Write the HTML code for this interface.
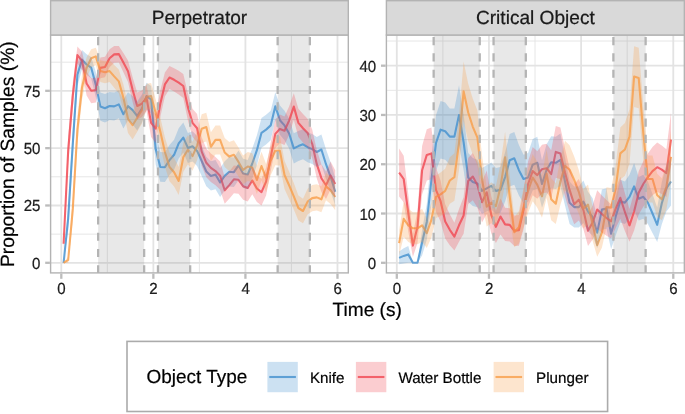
<!DOCTYPE html>
<html lang="en"><head><meta charset="utf-8"><title>Proportion of Samples by Object Type</title>
<style>html,body{margin:0;padding:0;background:#fff}svg{display:block;will-change:transform}text{stroke:#111;stroke-width:.22px}</style></head>
<body>
<svg width="685" height="414" viewBox="0 0 685 414" font-family="Liberation Sans, sans-serif" text-rendering="geometricPrecision">
<rect width="685" height="414" fill="#fff"/>
<clipPath id="c0"><rect x="50.6" y="35.0" width="297.70" height="237.90"/></clipPath>
<g clip-path="url(#c0)">
<line x1="50.6" x2="348.3" y1="234.14" y2="234.14" stroke="#e3e3e3" stroke-width="0.9"/>
<line x1="50.6" x2="348.3" y1="176.81" y2="176.81" stroke="#e3e3e3" stroke-width="0.9"/>
<line x1="50.6" x2="348.3" y1="119.49" y2="119.49" stroke="#e3e3e3" stroke-width="0.9"/>
<line x1="50.6" x2="348.3" y1="62.16" y2="62.16" stroke="#e3e3e3" stroke-width="0.9"/>
<line y1="35.0" y2="272.9" x1="107.33" x2="107.33" stroke="#e3e3e3" stroke-width="0.9"/>
<line y1="35.0" y2="272.9" x1="199.39" x2="199.39" stroke="#e3e3e3" stroke-width="0.9"/>
<line y1="35.0" y2="272.9" x1="291.45" x2="291.45" stroke="#e3e3e3" stroke-width="0.9"/>
<line x1="50.6" x2="348.3" y1="262.80" y2="262.80" stroke="#e3e3e3" stroke-width="1.8"/>
<line x1="50.6" x2="348.3" y1="205.48" y2="205.48" stroke="#e3e3e3" stroke-width="1.8"/>
<line x1="50.6" x2="348.3" y1="148.15" y2="148.15" stroke="#e3e3e3" stroke-width="1.8"/>
<line x1="50.6" x2="348.3" y1="90.82" y2="90.82" stroke="#e3e3e3" stroke-width="1.8"/>
<line y1="35.0" y2="272.9" x1="61.30" x2="61.30" stroke="#e3e3e3" stroke-width="1.8"/>
<line y1="35.0" y2="272.9" x1="153.36" x2="153.36" stroke="#e3e3e3" stroke-width="1.8"/>
<line y1="35.0" y2="272.9" x1="245.42" x2="245.42" stroke="#e3e3e3" stroke-width="1.8"/>
<line y1="35.0" y2="272.9" x1="337.48" x2="337.48" stroke="#e3e3e3" stroke-width="1.8"/>
<rect x="98.12" y="35.0" width="46.03" height="237.90" fill="#808080" fill-opacity="0.18"/>
<rect x="157.96" y="35.0" width="32.22" height="237.90" fill="#808080" fill-opacity="0.18"/>
<rect x="277.64" y="35.0" width="32.22" height="237.90" fill="#808080" fill-opacity="0.18"/>
<polyline fill="none" stroke="#4490CE" stroke-opacity="0.8" stroke-width="2.1" stroke-linejoin="round" stroke-linecap="butt" points="63.6,262.8 68.2,218.1 72.8,143.6 77.4,74.8 82.0,59.6 86.6,64.5 91.2,67.7 95.8,84.6 100.4,106.6 105.0,108.3 109.6,106.0 114.2,106.4 118.8,104.4 123.4,114.2 128.0,106.2 132.6,110.1 137.2,116.0 141.9,108.5 146.5,96.1 151.1,99.5 155.7,149.3 160.3,167.0 164.9,167.2 169.5,160.1 174.1,154.8 178.7,143.3 183.3,137.6 187.9,147.9 192.5,146.3 197.1,150.9 201.7,161.0 206.3,171.5 210.9,175.9 215.5,174.5 220.1,182.5 224.7,175.9 229.3,171.8 233.9,172.2 238.5,165.3 243.1,173.4 247.7,174.5 252.3,163.5 256.9,150.2 261.5,132.8 266.1,129.6 270.7,125.4 275.3,106.2 279.9,120.2 284.5,125.4 289.1,133.5 293.8,148.4 298.4,146.1 303.0,144.3 307.6,147.2 312.2,149.1 316.8,152.0 321.4,149.5 326.0,164.2 330.6,176.8 335.2,191.7"/>
<polyline fill="none" stroke="#F14650" stroke-opacity="0.8" stroke-width="2.1" stroke-linejoin="round" stroke-linecap="butt" points="63.6,243.8 68.2,150.4 72.8,95.4 77.4,55.1 82.0,60.8 86.6,83.5 91.2,90.8 95.8,90.1 100.4,67.9 105.0,67.0 109.6,58.3 114.2,54.4 118.8,54.1 123.4,62.6 128.0,71.3 132.6,89.7 137.2,106.0 141.9,103.7 146.5,97.9 151.1,122.9 155.7,128.7 160.3,103.7 164.9,84.4 169.5,77.5 174.1,79.8 178.7,82.6 183.3,86.0 187.9,107.1 192.5,122.9 197.1,128.2 201.7,151.6 206.3,162.8 210.9,167.9 215.5,171.1 220.1,175.7 224.7,190.3 229.3,185.1 233.9,179.3 238.5,179.8 243.1,186.2 247.7,188.0 252.3,180.5 256.9,188.5 261.5,192.2 266.1,181.6 270.7,157.1 275.3,133.9 279.9,128.9 284.5,130.7 289.1,120.6 293.8,106.6 298.4,122.9 303.0,128.2 307.6,133.0 312.2,143.8 316.8,164.2 321.4,178.2 326.0,185.3 330.6,175.4 335.2,183.9"/>
<polyline fill="none" stroke="#F99E49" stroke-opacity="0.8" stroke-width="2.1" stroke-linejoin="round" stroke-linecap="butt" points="63.6,262.8 68.2,259.8 72.8,208.9 77.4,129.8 82.0,87.4 86.6,67.9 91.2,58.3 95.8,56.4 100.4,71.1 105.0,72.3 109.6,71.1 114.2,76.4 118.8,81.4 123.4,97.7 128.0,118.8 132.6,125.2 137.2,117.7 141.9,110.1 146.5,96.8 151.1,96.1 155.7,113.1 160.3,131.6 164.9,152.0 169.5,167.0 174.1,172.2 178.7,180.9 183.3,157.3 187.9,149.8 192.5,156.2 197.1,145.6 201.7,128.7 206.3,127.1 210.9,146.8 215.5,139.9 220.1,139.9 224.7,152.5 229.3,156.6 233.9,154.8 238.5,161.9 243.1,169.9 247.7,166.5 252.3,167.6 256.9,180.0 261.5,166.0 266.1,178.2 270.7,160.8 275.3,150.7 279.9,150.9 284.5,175.0 289.1,185.3 293.8,196.3 298.4,208.0 303.0,211.0 307.6,201.6 312.2,198.1 316.8,197.4 321.4,199.3 326.0,186.4 330.6,190.3 335.2,197.0"/>
<polygon fill="#4490CE" fill-opacity="0.27" points="63.6,262.8 68.2,206.2 72.8,128.5 77.4,63.2 82.0,50.1 86.6,54.2 91.2,56.9 95.8,72.1 100.4,92.6 105.0,94.1 109.6,92.0 114.2,92.4 118.8,90.4 123.4,99.8 128.0,92.2 132.6,95.9 137.2,101.6 141.9,94.4 146.5,82.7 151.1,85.9 155.7,134.2 160.3,152.1 164.9,152.3 169.5,145.1 174.1,139.8 178.7,128.3 183.3,122.6 187.9,132.9 192.5,131.3 197.1,135.9 201.7,146.0 206.3,156.8 210.9,161.3 215.5,159.9 220.1,168.2 224.7,161.3 229.3,157.0 233.9,157.5 238.5,150.5 243.1,158.7 247.7,159.9 252.3,148.6 256.9,135.2 261.5,117.9 266.1,114.7 270.7,110.7 275.3,92.2 279.9,105.6 284.5,110.7 289.1,118.5 293.8,133.3 298.4,131.0 303.0,129.2 307.6,132.2 312.2,134.0 316.8,137.0 321.4,134.5 326.0,149.3 330.6,162.2 335.2,177.8 335.2,205.6 330.6,191.4 326.0,179.1 321.4,164.6 316.8,167.1 312.2,164.1 307.6,162.3 303.0,159.3 298.4,161.1 293.8,163.4 289.1,148.4 284.5,140.2 279.9,134.8 275.3,120.2 270.7,140.2 266.1,144.4 261.5,147.7 256.9,165.3 252.3,178.4 247.7,189.2 243.1,188.1 238.5,180.2 233.9,186.9 229.3,186.5 224.7,190.5 220.1,196.9 215.5,189.2 210.9,190.5 206.3,186.3 201.7,176.0 197.1,166.0 192.5,161.4 187.9,163.0 183.3,152.6 178.7,158.4 174.1,169.8 169.5,175.0 164.9,182.0 160.3,181.8 155.7,164.4 151.1,113.2 146.5,109.5 141.9,122.6 137.2,130.5 132.6,124.3 128.0,120.2 123.4,128.6 118.8,118.3 114.2,120.4 109.6,120.0 105.0,122.4 100.4,120.7 95.8,97.2 91.2,78.4 86.6,74.7 82.0,69.2 77.4,86.3 72.8,158.6 68.2,230.0 63.6,262.8"/>
<polygon fill="#F14650" fill-opacity="0.27" points="63.6,235.8 68.2,136.0 72.8,82.6 77.4,46.6 82.0,51.4 86.6,71.6 91.2,78.3 95.8,77.7 100.4,57.6 105.0,56.8 109.6,49.3 114.2,46.1 118.8,45.9 123.4,53.0 128.0,60.6 132.6,77.3 137.2,92.5 141.9,90.4 146.5,84.9 151.1,108.8 155.7,114.4 160.3,90.4 164.9,72.4 169.5,66.1 174.1,68.2 178.7,70.7 183.3,73.9 187.9,93.6 192.5,108.8 197.1,114.0 201.7,137.2 206.3,148.5 210.9,153.6 215.5,156.9 220.1,161.6 224.7,176.9 229.3,171.4 233.9,165.4 238.5,165.9 243.1,172.6 247.7,174.5 252.3,166.6 256.9,175.0 261.5,178.8 266.1,167.8 270.7,142.7 275.3,119.6 279.9,114.6 284.5,116.4 289.1,106.6 293.8,93.2 298.4,108.8 303.0,114.0 307.6,118.7 312.2,129.4 316.8,149.9 321.4,164.2 326.0,171.6 330.6,161.4 335.2,170.2 335.2,197.6 330.6,189.5 326.0,199.0 321.4,192.1 316.8,178.5 312.2,158.2 307.6,147.3 303.0,142.4 298.4,137.0 293.8,120.1 289.1,134.7 284.5,145.0 279.9,143.1 275.3,148.3 270.7,171.5 266.1,195.4 261.5,205.5 256.9,202.0 252.3,194.3 247.7,201.6 243.1,199.8 238.5,193.7 233.9,193.2 229.3,198.7 224.7,203.8 220.1,189.7 215.5,185.2 210.9,182.1 206.3,177.2 201.7,166.0 197.1,142.4 192.5,137.0 187.9,120.6 183.3,98.1 178.7,94.4 174.1,91.4 169.5,88.9 164.9,96.4 160.3,117.0 155.7,142.9 151.1,137.0 146.5,110.9 141.9,117.0 137.2,119.4 132.6,102.1 128.0,82.1 123.4,72.2 118.8,62.4 114.2,62.7 109.6,67.2 105.0,77.2 100.4,78.2 95.8,102.6 91.2,103.3 86.6,95.4 82.0,70.1 77.4,63.5 72.8,108.2 68.2,164.9 63.6,251.7"/>
<polygon fill="#F99E49" fill-opacity="0.27" points="63.6,262.8 68.2,256.5 72.8,196.6 77.4,115.4 82.0,75.0 86.6,57.5 91.2,49.2 95.8,47.7 100.4,60.3 105.0,61.3 109.6,60.3 114.2,65.0 118.8,69.6 123.4,84.6 128.0,104.7 132.6,111.0 137.2,103.6 141.9,96.4 146.5,83.8 151.1,83.1 155.7,99.2 160.3,117.2 164.9,137.5 169.5,152.6 174.1,158.0 178.7,167.0 183.3,142.8 187.9,135.2 192.5,141.7 197.1,131.1 201.7,114.3 206.3,112.7 210.9,132.2 215.5,125.4 220.1,125.4 224.7,138.0 229.3,142.1 233.9,140.3 238.5,147.5 243.1,155.6 247.7,152.1 252.3,153.3 256.9,166.0 261.5,151.7 266.1,164.1 270.7,146.3 275.3,136.1 279.9,136.3 284.5,160.8 289.1,171.5 293.8,183.1 298.4,195.6 303.0,198.8 307.6,188.7 312.2,185.0 316.8,184.3 321.4,186.3 326.0,172.7 330.6,176.8 335.2,183.8 335.2,210.2 330.6,203.9 326.0,200.2 321.4,212.3 316.8,210.6 312.2,211.2 307.6,214.5 303.0,223.2 298.4,220.4 293.8,209.5 289.1,199.1 284.5,189.1 279.9,165.5 275.3,165.2 270.7,175.2 266.1,192.2 261.5,180.4 256.9,194.0 252.3,182.0 247.7,180.9 243.1,184.2 238.5,176.4 233.9,169.3 229.3,171.2 224.7,167.1 220.1,154.4 215.5,154.4 210.9,161.3 206.3,141.4 201.7,143.0 197.1,160.2 192.5,170.7 187.9,164.3 183.3,171.8 178.7,194.9 174.1,186.5 169.5,181.3 164.9,166.6 160.3,146.0 155.7,126.9 151.1,109.1 146.5,109.8 141.9,123.8 137.2,131.7 132.6,139.5 128.0,132.9 123.4,110.8 118.8,93.3 114.2,87.7 109.6,81.9 105.0,83.2 100.4,81.9 95.8,65.2 91.2,67.3 86.6,78.3 82.0,99.7 77.4,144.2 72.8,221.3 68.2,263.1 63.6,262.8"/>
<line x1="98.12" x2="98.12" y1="273.40" y2="35.0" stroke="#b4b4b4" stroke-width="2.3" stroke-dasharray="8.1 8.205"/>
<line x1="144.15" x2="144.15" y1="273.40" y2="35.0" stroke="#b4b4b4" stroke-width="2.3" stroke-dasharray="8.1 8.205"/>
<line x1="157.96" x2="157.96" y1="273.40" y2="35.0" stroke="#b4b4b4" stroke-width="2.3" stroke-dasharray="8.1 8.205"/>
<line x1="190.18" x2="190.18" y1="273.40" y2="35.0" stroke="#b4b4b4" stroke-width="2.3" stroke-dasharray="8.1 8.205"/>
<line x1="277.64" x2="277.64" y1="273.40" y2="35.0" stroke="#b4b4b4" stroke-width="2.3" stroke-dasharray="8.1 8.205"/>
<line x1="309.86" x2="309.86" y1="273.40" y2="35.0" stroke="#b4b4b4" stroke-width="2.3" stroke-dasharray="8.1 8.205"/>
</g>
<rect x="50.6" y="35.0" width="297.70" height="237.90" fill="none" stroke="#b3b3b3" stroke-width="1.4"/>
<rect x="50.6" y="0.7" width="297.70" height="34.30" fill="#d9d9d9" stroke="#b3b3b3" stroke-width="1.4"/>
<text x="199.45" y="24.0" font-size="19.1" text-anchor="middle" fill="#1a1a1a">Perpetrator</text>
<line x1="45.20" x2="49.90" y1="262.80" y2="262.80" stroke="#bcbcbc" stroke-width="2.3"/>
<text transform="translate(40.40,268.80) scale(0.94,1)" font-size="16" text-anchor="end" fill="#1f1f1f">0</text>
<line x1="45.20" x2="49.90" y1="205.48" y2="205.48" stroke="#bcbcbc" stroke-width="2.3"/>
<text transform="translate(40.40,211.48) scale(0.94,1)" font-size="16" text-anchor="end" fill="#1f1f1f">25</text>
<line x1="45.20" x2="49.90" y1="148.15" y2="148.15" stroke="#bcbcbc" stroke-width="2.3"/>
<text transform="translate(40.40,154.15) scale(0.94,1)" font-size="16" text-anchor="end" fill="#1f1f1f">50</text>
<line x1="45.20" x2="49.90" y1="90.82" y2="90.82" stroke="#bcbcbc" stroke-width="2.3"/>
<text transform="translate(40.40,96.82) scale(0.94,1)" font-size="16" text-anchor="end" fill="#1f1f1f">75</text>
<line y1="273.60" y2="278.80" x1="61.30" x2="61.30" stroke="#bcbcbc" stroke-width="2.3"/>
<text transform="translate(61.50,294.10) scale(0.94,1)" font-size="16" text-anchor="middle" fill="#1f1f1f">0</text>
<line y1="273.60" y2="278.80" x1="153.36" x2="153.36" stroke="#bcbcbc" stroke-width="2.3"/>
<text transform="translate(153.56,294.10) scale(0.94,1)" font-size="16" text-anchor="middle" fill="#1f1f1f">2</text>
<line y1="273.60" y2="278.80" x1="245.42" x2="245.42" stroke="#bcbcbc" stroke-width="2.3"/>
<text transform="translate(245.62,294.10) scale(0.94,1)" font-size="16" text-anchor="middle" fill="#1f1f1f">4</text>
<line y1="273.60" y2="278.80" x1="337.48" x2="337.48" stroke="#bcbcbc" stroke-width="2.3"/>
<text transform="translate(337.68,294.10) scale(0.94,1)" font-size="16" text-anchor="middle" fill="#1f1f1f">6</text>
<clipPath id="c1"><rect x="386.4" y="35.0" width="297.95" height="237.90"/></clipPath>
<g clip-path="url(#c1)">
<line x1="386.4" x2="684.35" y1="238.16" y2="238.16" stroke="#e3e3e3" stroke-width="0.9"/>
<line x1="386.4" x2="684.35" y1="188.88" y2="188.88" stroke="#e3e3e3" stroke-width="0.9"/>
<line x1="386.4" x2="684.35" y1="139.60" y2="139.60" stroke="#e3e3e3" stroke-width="0.9"/>
<line x1="386.4" x2="684.35" y1="90.32" y2="90.32" stroke="#e3e3e3" stroke-width="0.9"/>
<line x1="386.4" x2="684.35" y1="41.04" y2="41.04" stroke="#e3e3e3" stroke-width="0.9"/>
<line y1="35.0" y2="272.9" x1="442.88" x2="442.88" stroke="#e3e3e3" stroke-width="0.9"/>
<line y1="35.0" y2="272.9" x1="535.04" x2="535.04" stroke="#e3e3e3" stroke-width="0.9"/>
<line y1="35.0" y2="272.9" x1="627.20" x2="627.20" stroke="#e3e3e3" stroke-width="0.9"/>
<line x1="386.4" x2="684.35" y1="262.80" y2="262.80" stroke="#e3e3e3" stroke-width="1.8"/>
<line x1="386.4" x2="684.35" y1="213.52" y2="213.52" stroke="#e3e3e3" stroke-width="1.8"/>
<line x1="386.4" x2="684.35" y1="164.24" y2="164.24" stroke="#e3e3e3" stroke-width="1.8"/>
<line x1="386.4" x2="684.35" y1="114.96" y2="114.96" stroke="#e3e3e3" stroke-width="1.8"/>
<line x1="386.4" x2="684.35" y1="65.68" y2="65.68" stroke="#e3e3e3" stroke-width="1.8"/>
<line y1="35.0" y2="272.9" x1="396.80" x2="396.80" stroke="#e3e3e3" stroke-width="1.8"/>
<line y1="35.0" y2="272.9" x1="488.96" x2="488.96" stroke="#e3e3e3" stroke-width="1.8"/>
<line y1="35.0" y2="272.9" x1="581.12" x2="581.12" stroke="#e3e3e3" stroke-width="1.8"/>
<line y1="35.0" y2="272.9" x1="673.28" x2="673.28" stroke="#e3e3e3" stroke-width="1.8"/>
<rect x="433.66" y="35.0" width="46.08" height="237.90" fill="#808080" fill-opacity="0.18"/>
<rect x="493.57" y="35.0" width="32.26" height="237.90" fill="#808080" fill-opacity="0.18"/>
<rect x="613.38" y="35.0" width="32.26" height="237.90" fill="#808080" fill-opacity="0.18"/>
<polyline fill="none" stroke="#4490CE" stroke-opacity="0.8" stroke-width="2.1" stroke-linejoin="round" stroke-linecap="butt" points="399.1,257.9 403.7,255.9 408.3,254.4 412.9,262.8 417.5,262.8 422.1,242.6 426.8,221.9 431.4,180.0 436.0,143.0 440.6,129.7 445.2,131.2 449.8,136.6 454.4,136.6 459.0,115.0 463.6,142.1 468.2,177.5 472.8,182.0 477.4,183.5 482.0,190.9 486.7,188.4 491.3,185.9 495.9,190.9 500.5,189.9 505.1,177.1 509.7,160.3 514.3,158.3 518.9,170.2 523.5,179.0 528.1,177.5 532.7,164.7 537.3,162.8 542.0,184.0 546.6,169.7 551.2,162.3 555.8,162.8 560.4,159.8 565.0,181.5 569.6,202.7 574.2,207.1 578.8,207.1 583.4,201.7 588.0,211.5 592.6,217.0 597.2,232.7 601.9,209.6 606.5,208.6 611.1,233.7 615.7,216.5 620.3,201.2 624.9,202.7 629.5,196.8 634.1,186.4 638.7,198.7 643.3,196.8 647.9,202.7 652.5,213.5 657.2,224.9 661.8,203.2 666.4,188.4 671.0,181.5"/>
<polyline fill="none" stroke="#F14650" stroke-opacity="0.8" stroke-width="2.1" stroke-linejoin="round" stroke-linecap="butt" points="399.1,172.6 403.7,179.0 408.3,213.0 412.9,245.6 417.5,226.8 422.1,170.2 426.8,154.9 431.4,153.4 436.0,189.9 440.6,201.2 445.2,221.4 449.8,229.8 454.4,236.7 459.0,225.3 463.6,215.5 468.2,181.0 472.8,176.6 477.4,184.9 482.0,202.2 486.7,192.3 491.3,215.0 495.9,226.8 500.5,216.5 505.1,224.4 509.7,224.9 514.3,230.8 518.9,230.3 523.5,210.1 528.1,184.0 532.7,171.1 537.3,175.1 542.0,169.2 546.6,168.2 551.2,174.1 555.8,151.9 560.4,153.4 565.0,172.6 569.6,189.9 574.2,204.2 578.8,199.7 583.4,210.1 588.0,230.8 592.6,222.4 597.2,209.6 601.9,214.0 606.5,218.0 611.1,221.4 615.7,208.6 620.3,197.8 624.9,212.0 629.5,225.3 634.1,211.5 638.7,192.8 643.3,184.0 647.9,177.1 652.5,171.1 657.2,167.2 661.8,169.7 666.4,173.1 671.0,139.6"/>
<polyline fill="none" stroke="#F99E49" stroke-opacity="0.8" stroke-width="2.1" stroke-linejoin="round" stroke-linecap="butt" points="399.1,243.1 403.7,218.9 408.3,225.3 412.9,228.3 417.5,228.3 422.1,225.3 426.8,233.2 431.4,219.9 436.0,196.8 440.6,194.3 445.2,190.9 449.8,180.5 454.4,177.1 459.0,143.0 463.6,91.3 468.2,112.5 472.8,126.8 477.4,137.6 482.0,179.0 486.7,206.6 491.3,202.7 495.9,206.1 500.5,186.9 505.1,157.3 509.7,196.3 514.3,232.2 518.9,227.3 523.5,207.6 528.1,190.9 532.7,177.5 537.3,184.9 542.0,196.3 546.6,173.6 551.2,199.2 555.8,203.7 560.4,181.5 565.0,165.7 569.6,169.7 574.2,180.0 578.8,191.8 583.4,208.6 588.0,204.6 592.6,223.9 597.2,245.1 601.9,232.7 606.5,207.1 611.1,207.6 615.7,187.9 620.3,153.4 624.9,149.5 629.5,136.6 634.1,76.5 638.7,78.0 643.3,133.2 647.9,179.0 652.5,179.0 657.2,195.3 661.8,199.2 666.4,186.9 671.0,156.8"/>
<polygon fill="#4490CE" fill-opacity="0.27" points="399.1,251.4 403.7,248.3 408.3,246.1 412.9,262.8 417.5,262.8 422.1,229.8 426.8,204.0 431.4,155.8 436.0,115.3 440.6,101.0 445.2,102.6 449.8,108.4 454.4,108.4 459.0,85.3 463.6,114.2 468.2,153.1 472.8,158.0 477.4,159.7 482.0,168.0 486.7,165.2 491.3,162.4 495.9,168.0 500.5,166.9 505.1,152.5 509.7,134.0 514.3,131.9 518.9,144.9 523.5,154.7 528.1,153.1 532.7,138.9 537.3,136.7 542.0,160.2 546.6,144.3 551.2,136.2 555.8,136.7 560.4,133.5 565.0,157.5 569.6,181.5 574.2,186.6 578.8,186.6 583.4,180.4 588.0,191.8 592.6,198.2 597.2,217.3 601.9,189.5 606.5,188.3 611.1,218.5 615.7,197.6 620.3,179.8 624.9,181.5 629.5,174.7 634.1,163.0 638.7,177.0 643.3,174.7 647.9,181.5 652.5,194.1 657.2,207.6 661.8,182.1 666.4,165.2 671.0,157.5 671.0,205.5 666.4,211.6 661.8,224.3 657.2,242.1 652.5,232.9 647.9,223.9 643.3,218.8 638.7,220.5 634.1,209.8 629.5,218.8 624.9,223.9 620.3,222.6 615.7,235.4 611.1,249.0 606.5,228.8 601.9,229.7 597.2,248.2 592.6,235.8 588.0,231.3 583.4,223.0 578.8,227.6 574.2,227.6 569.6,223.9 565.0,205.5 560.4,186.1 555.8,188.8 551.2,188.3 546.6,195.0 542.0,207.7 537.3,188.8 532.7,190.6 528.1,202.0 523.5,203.3 518.9,195.4 514.3,184.8 509.7,186.6 505.1,201.6 500.5,212.8 495.9,213.7 491.3,209.4 486.7,211.6 482.0,213.7 477.4,207.2 472.8,205.9 468.2,202.0 463.6,169.9 459.0,144.6 454.4,164.9 449.8,164.9 445.2,159.8 440.6,158.5 436.0,170.8 431.4,204.2 426.8,239.7 422.1,255.4 417.5,262.8 412.9,262.8 408.3,262.8 403.7,263.5 399.1,264.3"/>
<polygon fill="#F14650" fill-opacity="0.27" points="399.1,148.6 403.7,155.7 408.3,194.3 412.9,234.1 417.5,210.7 422.1,145.9 426.8,129.2 431.4,127.6 436.0,167.8 440.6,180.7 445.2,204.2 449.8,214.3 454.4,222.8 459.0,208.9 463.6,197.2 468.2,157.9 472.8,153.0 477.4,162.3 482.0,181.8 486.7,170.6 491.3,196.6 495.9,210.7 500.5,198.4 505.1,207.7 509.7,208.3 514.3,215.5 518.9,214.9 523.5,190.9 528.1,161.2 532.7,147.0 537.3,151.3 542.0,144.8 546.6,143.7 551.2,150.2 555.8,126.0 560.4,127.6 565.0,148.6 569.6,167.8 574.2,184.1 578.8,179.0 583.4,190.9 588.0,215.5 592.6,205.4 597.2,190.3 601.9,195.5 606.5,200.1 611.1,204.2 615.7,189.2 620.3,176.7 624.9,193.2 629.5,208.9 634.1,192.6 638.7,171.2 643.3,161.2 647.9,153.5 652.5,147.0 657.2,142.6 661.8,145.4 666.4,149.2 671.0,112.7 671.0,166.5 666.4,197.1 661.8,194.0 657.2,191.7 652.5,195.3 647.9,200.6 643.3,206.7 638.7,214.5 634.1,230.5 629.5,241.8 624.9,230.9 620.3,218.8 615.7,228.0 611.1,238.6 606.5,235.8 601.9,232.6 597.2,228.8 592.6,239.4 588.0,246.1 583.4,229.3 578.8,220.5 574.2,224.3 569.6,211.9 565.0,196.6 560.4,179.2 555.8,177.8 551.2,197.9 546.6,192.6 542.0,193.5 537.3,198.8 532.7,195.3 528.1,206.7 523.5,229.3 518.9,245.7 514.3,246.1 509.7,241.4 505.1,241.0 500.5,234.6 495.9,243.0 491.3,233.4 486.7,214.1 482.0,222.6 477.4,207.6 472.8,200.2 468.2,204.1 463.6,233.8 459.0,241.8 454.4,250.6 449.8,245.3 445.2,238.6 440.6,221.7 436.0,211.9 431.4,179.2 426.8,180.6 422.1,194.4 417.5,243.0 412.9,257.0 408.3,231.7 403.7,202.3 399.1,196.6"/>
<polygon fill="#F99E49" fill-opacity="0.27" points="399.1,230.8 403.7,201.1 408.3,208.8 412.9,212.3 417.5,212.3 422.1,208.8 426.8,218.4 431.4,202.3 436.0,175.4 440.6,172.6 445.2,168.8 449.8,157.2 454.4,153.3 459.0,116.2 463.6,61.5 468.2,83.7 472.8,98.8 477.4,110.4 482.0,155.5 486.7,186.7 491.3,182.2 495.9,186.2 500.5,164.3 505.1,131.7 509.7,174.9 514.3,217.2 518.9,211.1 523.5,187.9 528.1,168.8 532.7,153.9 537.3,162.1 542.0,174.9 546.6,149.5 551.2,178.3 555.8,183.3 560.4,158.3 565.0,140.8 569.6,145.2 574.2,156.6 578.8,169.9 583.4,189.0 588.0,184.5 592.6,207.0 597.2,233.4 601.9,217.8 606.5,187.3 611.1,187.9 615.7,165.4 620.3,127.4 624.9,123.1 629.5,109.3 634.1,46.2 638.7,47.7 643.3,105.6 647.9,155.5 652.5,155.5 657.2,173.8 661.8,178.3 666.4,164.3 671.0,131.1 671.0,182.6 666.4,209.5 661.8,220.2 657.2,216.8 652.5,202.5 647.9,202.5 643.3,160.7 638.7,108.3 634.1,106.9 629.5,164.0 624.9,175.8 620.3,179.4 615.7,210.4 611.1,227.3 606.5,226.9 601.9,247.7 597.2,256.7 592.6,240.8 588.0,224.8 583.4,228.2 578.8,213.8 574.2,203.4 569.6,194.2 565.0,190.6 560.4,204.7 555.8,224.0 551.2,220.2 546.6,197.7 542.0,217.7 537.3,207.8 532.7,201.2 528.1,213.0 523.5,227.3 518.9,243.5 514.3,247.3 509.7,217.7 505.1,183.0 500.5,209.5 495.9,226.1 491.3,223.2 486.7,226.5 482.0,202.5 477.4,164.9 472.8,154.8 468.2,141.3 463.6,121.1 459.0,169.9 454.4,200.8 449.8,203.8 445.2,213.0 440.6,216.0 436.0,218.1 431.4,237.6 426.8,248.1 422.1,241.9 417.5,244.3 412.9,244.3 408.3,241.9 403.7,236.8 399.1,255.4"/>
<line x1="433.66" x2="433.66" y1="273.40" y2="35.0" stroke="#b4b4b4" stroke-width="2.3" stroke-dasharray="8.1 8.205"/>
<line x1="479.74" x2="479.74" y1="273.40" y2="35.0" stroke="#b4b4b4" stroke-width="2.3" stroke-dasharray="8.1 8.205"/>
<line x1="493.57" x2="493.57" y1="273.40" y2="35.0" stroke="#b4b4b4" stroke-width="2.3" stroke-dasharray="8.1 8.205"/>
<line x1="525.82" x2="525.82" y1="273.40" y2="35.0" stroke="#b4b4b4" stroke-width="2.3" stroke-dasharray="8.1 8.205"/>
<line x1="613.38" x2="613.38" y1="273.40" y2="35.0" stroke="#b4b4b4" stroke-width="2.3" stroke-dasharray="8.1 8.205"/>
<line x1="645.63" x2="645.63" y1="273.40" y2="35.0" stroke="#b4b4b4" stroke-width="2.3" stroke-dasharray="8.1 8.205"/>
</g>
<rect x="386.4" y="35.0" width="297.95" height="237.90" fill="none" stroke="#b3b3b3" stroke-width="1.4"/>
<rect x="386.4" y="0.7" width="297.95" height="34.30" fill="#d9d9d9" stroke="#b3b3b3" stroke-width="1.4"/>
<text x="535.38" y="24.0" font-size="19.1" text-anchor="middle" fill="#1a1a1a">Critical Object</text>
<line x1="381.00" x2="385.70" y1="262.80" y2="262.80" stroke="#bcbcbc" stroke-width="2.3"/>
<text transform="translate(376.20,268.80) scale(0.94,1)" font-size="16" text-anchor="end" fill="#1f1f1f">0</text>
<line x1="381.00" x2="385.70" y1="213.52" y2="213.52" stroke="#bcbcbc" stroke-width="2.3"/>
<text transform="translate(376.20,219.52) scale(0.94,1)" font-size="16" text-anchor="end" fill="#1f1f1f">10</text>
<line x1="381.00" x2="385.70" y1="164.24" y2="164.24" stroke="#bcbcbc" stroke-width="2.3"/>
<text transform="translate(376.20,170.24) scale(0.94,1)" font-size="16" text-anchor="end" fill="#1f1f1f">20</text>
<line x1="381.00" x2="385.70" y1="114.96" y2="114.96" stroke="#bcbcbc" stroke-width="2.3"/>
<text transform="translate(376.20,120.96) scale(0.94,1)" font-size="16" text-anchor="end" fill="#1f1f1f">30</text>
<line x1="381.00" x2="385.70" y1="65.68" y2="65.68" stroke="#bcbcbc" stroke-width="2.3"/>
<text transform="translate(376.20,71.68) scale(0.94,1)" font-size="16" text-anchor="end" fill="#1f1f1f">40</text>
<line y1="273.60" y2="278.80" x1="396.80" x2="396.80" stroke="#bcbcbc" stroke-width="2.3"/>
<text transform="translate(397.00,294.10) scale(0.94,1)" font-size="16" text-anchor="middle" fill="#1f1f1f">0</text>
<line y1="273.60" y2="278.80" x1="488.96" x2="488.96" stroke="#bcbcbc" stroke-width="2.3"/>
<text transform="translate(489.16,294.10) scale(0.94,1)" font-size="16" text-anchor="middle" fill="#1f1f1f">2</text>
<line y1="273.60" y2="278.80" x1="581.12" x2="581.12" stroke="#bcbcbc" stroke-width="2.3"/>
<text transform="translate(581.32,294.10) scale(0.94,1)" font-size="16" text-anchor="middle" fill="#1f1f1f">4</text>
<line y1="273.60" y2="278.80" x1="673.28" x2="673.28" stroke="#bcbcbc" stroke-width="2.3"/>
<text transform="translate(673.48,294.10) scale(0.94,1)" font-size="16" text-anchor="middle" fill="#1f1f1f">6</text>
<text x="367.2" y="316.1" font-size="19.1" text-anchor="middle" fill="#000">Time (s)</text>
<text transform="translate(14.1,154.2) rotate(-90)" font-size="19.25" text-anchor="middle" fill="#000">Proportion of Samples (%)</text>
<rect x="127" y="341.4" width="480.6" height="70.1" fill="#fff" stroke="#ababab" stroke-width="1.6"/>
<text x="146.5" y="383.4" font-size="18.95" fill="#000">Object Type</text>
<line x1="269.30" x2="295.90" y1="377.0" y2="377.0" stroke="#4490CE" stroke-opacity="0.8" stroke-width="2.1"/>
<rect x="267.4" y="361.9" width="30.4" height="30.3" fill="#4490CE" fill-opacity="0.27"/>
<text x="309.90" y="382.7" font-size="15.2" fill="#000">Knife</text>
<line x1="357.80" x2="384.40" y1="377.0" y2="377.0" stroke="#F14650" stroke-opacity="0.8" stroke-width="2.1"/>
<rect x="355.9" y="361.9" width="30.4" height="30.3" fill="#F14650" fill-opacity="0.27"/>
<text x="398.40" y="382.7" font-size="15.2" fill="#000">Water Bottle</text>
<line x1="495.50" x2="522.10" y1="377.0" y2="377.0" stroke="#F99E49" stroke-opacity="0.8" stroke-width="2.1"/>
<rect x="493.6" y="361.9" width="30.4" height="30.3" fill="#F99E49" fill-opacity="0.27"/>
<text x="536.10" y="382.7" font-size="15.2" fill="#000">Plunger</text>
</svg>
</body></html>
